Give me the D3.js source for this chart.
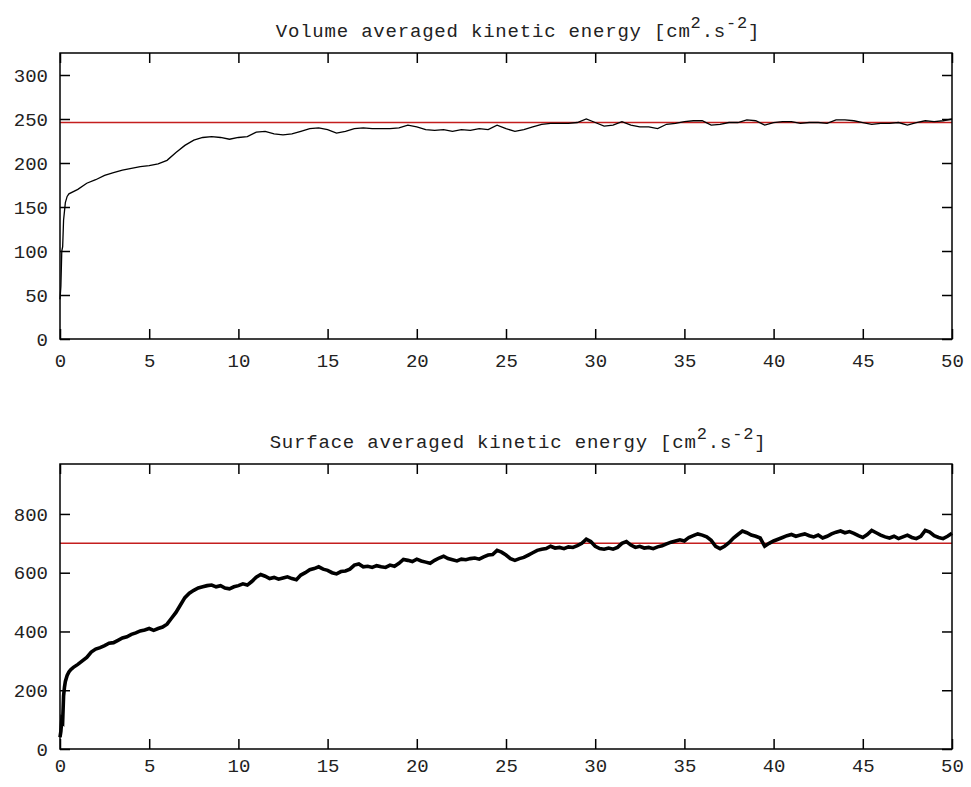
<!DOCTYPE html>
<html><head><meta charset="utf-8">
<script src="https://cdn.jsdelivr.net/npm/d3@7"></script>
<style>
body{margin:0;background:#fff;}
svg text{font-family:"Liberation Mono","DejaVu Sans Mono",monospace;fill:#222;}
</style></head>
<body><svg id="c" width="971" height="787"></svg>
<script>
// ---- data ----
const xTicks = [0,5,10,15,20,25,30,35,40,45,50];
const volTicks = [0,50,100,150,200,250,300];
const surfTicks = [0,200,400,600,800];
const volRef = 246;
const surfRef = 700;

const volT = [0,0.05,0.1,0.15,0.2,0.25,0.3,0.4,
 0.5,1,1.5,2,2.5,3,3.5,4,4.5,5,5.5,6,6.5,7,7.5,8,8.5,9,9.5,10,
 10.5,11,11.5,12,12.5,13,13.5,14,14.5,15,15.5,16,16.5,17,17.5,18,18.5,19,19.5,20,
 20.5,21,21.5,22,22.5,23,23.5,24,24.5,25,25.5,26,26.5,27,27.5,28,28.5,29,29.5,30,
 30.5,31,31.5,32,32.5,33,33.5,34,34.5,35,35.5,36,36.5,37,37.5,38,38.5,39,39.5,40,
 40.5,41,41.5,42,42.5,43,43.5,44,44.5,45,45.5,46,46.5,47,47.5,48,48.5,49,49.5,50];
const volE = [45,60,100,105,135,145,155,162,
 165,170,177,181,186,189,192,194,196,197,199,203,212,220,226,229,230,229,227,229,
 230,235,236,233,232,233,236,239,240,238,234,236,239,240,239,239,239,240,243,241,
 238,237,238,236,238,237,239,238,243,239,236,238,241,244,245,245,245,246,250,246,
 242,243,247,243,241,241,239,244,245,247,248,248,243,244,246,246,249,248,243,246,
 247,247,245,246,246,245,249,249,248,246,244,245,245,246,243,246,248,247,248,250];

const surfT = [0,0.05,0.1,0.15,0.2,0.25,0.3,0.4,0.5,0.6,0.75,
 1,1.25,1.5,1.75,2,2.25,2.5,2.75,3,3.25,3.5,3.75,4,4.25,4.5,4.75,5,5.25,5.5,5.75,
 6,6.25,6.5,6.75,7,7.25,7.5,7.75,8,8.25,8.5,8.75,9,9.25,9.5,9.75,10,10.25,10.5,10.75,
 11,11.25,11.5,11.75,12,12.25,12.5,12.75,13,13.25,13.5,13.75,14,14.25,14.5,14.75,15,15.25,15.5,15.75,
 16,16.25,16.5,16.75,17,17.25,17.5,17.75,18,18.25,18.5,18.75,19,19.25,19.5,19.75,20,20.25,20.5,20.75,
 21,21.25,21.5,21.75,22,22.25,22.5,22.75,23,23.25,23.5,23.75,24,24.25,24.5,24.75,25,25.25,25.5,25.75,
 26,26.25,26.5,26.75,27,27.25,27.5,27.75,28,28.25,28.5,28.75,29,29.25,29.5,29.75,30,30.25,30.5,30.75,
 31,31.25,31.5,31.75,32,32.25,32.5,32.75,33,33.25,33.5,33.75,34,34.25,34.5,34.75,35,35.25,35.5,35.75,
 36,36.25,36.5,36.75,37,37.25,37.5,37.75,38,38.25,38.5,38.75,39,39.25,39.5,39.75,40,40.25,40.5,40.75,
 41,41.25,41.5,41.75,42,42.25,42.5,42.75,43,43.25,43.5,43.75,44,44.25,44.5,44.75,45,45.25,45.5,45.75,
 46,46.25,46.5,46.75,47,47.25,47.5,47.75,48,48.25,48.5,48.75,49,49.25,49.5,49.75,50];
const surfE = [40,60,100,95,180,210,230,250,262,270,278,
 288,300,312,330,340,345,352,360,362,370,378,382,390,395,402,405,410,404,410,415,
 425,445,465,490,515,530,540,548,552,556,558,552,556,548,545,552,556,562,558,570,
 585,594,588,580,584,578,582,586,580,576,592,600,610,614,620,612,608,600,596,604,
 606,612,626,630,620,622,618,624,620,618,626,622,632,645,642,638,646,640,636,632,
 642,650,656,648,644,640,646,644,648,650,646,654,660,662,676,670,660,648,642,648,
 652,660,668,676,680,682,690,684,686,682,688,686,692,700,714,706,690,682,680,684,
 680,686,700,706,694,686,690,684,686,682,688,692,698,704,708,712,708,720,726,732,
 728,722,710,690,682,690,702,718,730,742,736,728,724,718,690,700,708,714,720,726,
 730,724,728,732,726,722,728,718,724,732,738,742,736,740,734,726,720,730,744,736,
 728,722,718,724,716,722,728,720,716,724,744,738,726,720,716,724,734];

const panels = [
  {title:"Volume averaged kinetic energy [cm", top:53, bottom:339, yMax:325, ticks:volTicks, t:volT, e:volE, ref:volRef, lw:1.3, ty:37, xpad:15},
  {title:"Surface averaged kinetic energy [cm", top:464, bottom:749, yMax:970, ticks:surfTicks, t:surfT, e:surfE, ref:surfRef, lw:3.6, ty:448, xpad:10}
];

const svg = d3.select("#c");
const L = 60, R = 952;
const x = d3.scaleLinear().domain([0,50]).range([L,R]);

panels.forEach(p => {
  const y = d3.scaleLinear().domain([0,p.yMax]).range([p.bottom,p.top]);
  const g = svg.append("g");
  // title
  const tt = g.append("text").attr("x",(L+R)/2 + 12).attr("y",p.ty).attr("text-anchor","middle")
    .style("font-size","19px").style("letter-spacing","0.8px");
  tt.append("tspan").text(p.title);
  tt.append("tspan").attr("dy",-9).style("font-size","17px").text("2");
  tt.append("tspan").attr("dy",9).text(".s");
  tt.append("tspan").attr("dy",-9).style("font-size","17px").text("-2");
  tt.append("tspan").attr("dy",9).text("]");

  // reference line
  g.append("line").attr("x1",L).attr("x2",R).attr("y1",y(p.ref)).attr("y2",y(p.ref))
    .attr("stroke","#c41e1e").attr("stroke-width",1.5);
  // data line
  const line = d3.line().x((d,i)=>x(p.t[i])).y(d=>y(d));
  g.append("path").datum(p.e).attr("d",line).attr("fill","none")
    .attr("stroke","#000").attr("stroke-width",p.lw).attr("stroke-linejoin","miter");

  // axes with inward ticks
  const fs = "19px";
  const ax = (a) => a.call(s=>s.select(".domain").remove());
  g.append("g").attr("transform",`translate(0,${p.bottom})`)
    .call(d3.axisBottom(x).tickValues(xTicks).tickSizeInner(-10).tickSizeOuter(0).tickPadding(p.xpad).tickFormat(d3.format("d")))
    .call(ax).call(s=>s.selectAll("text").style("font-size",fs).attr("fill","#222"));
  g.append("g").attr("transform",`translate(0,${p.top})`)
    .call(d3.axisTop(x).tickValues(xTicks).tickSizeInner(-10).tickSizeOuter(0).tickFormat(""))
    .call(ax);
  g.append("g").attr("transform",`translate(${L},0)`)
    .call(d3.axisLeft(y).tickValues(p.ticks).tickSizeInner(-10).tickSizeOuter(0).tickPadding(12).tickFormat(d3.format("d")))
    .call(ax).call(s=>s.selectAll("text").style("font-size",fs).attr("fill","#222"));
  g.append("g").attr("transform",`translate(${R},0)`)
    .call(d3.axisRight(y).tickValues(p.ticks).tickSizeInner(-10).tickSizeOuter(0).tickFormat(""))
    .call(ax);
  g.selectAll(".tick line").attr("stroke","#000").attr("stroke-width",1.5);
  // frame
  g.append("rect").attr("x",L).attr("y",p.top).attr("width",R-L).attr("height",p.bottom-p.top)
    .attr("fill","none").attr("stroke","#000").attr("stroke-width",1.5);
});
</script></body></html>
